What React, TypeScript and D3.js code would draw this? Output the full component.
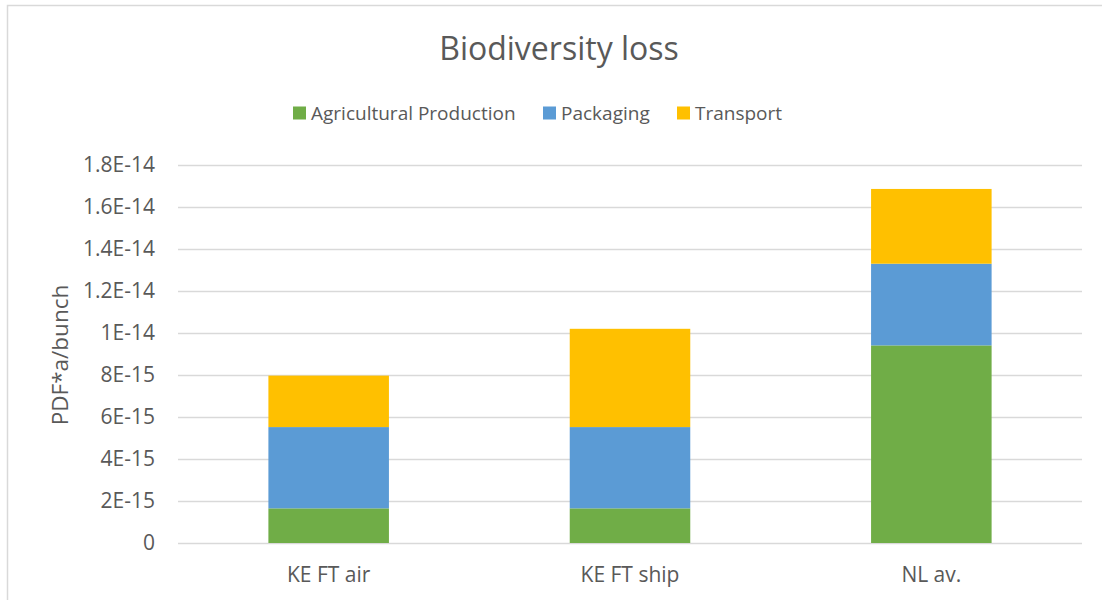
import React, { useEffect, useRef } from 'react';
import * as d3 from 'd3';

// chart data
const categories = ['KE FT air', 'KE FT ship', 'NL av.'];
const seriesNames = ['Agricultural Production', 'Packaging', 'Transport'];
const agricultural = [1.65e-15, 1.65e-15, 9.41e-15];
const packaging = [3.87e-15, 3.87e-15, 3.89e-15];
const transport = [2.45e-15, 4.68e-15, 3.56e-15];
const yTicks = [0, 2e-15, 4e-15, 6e-15, 8e-15, 1e-14, 1.2e-14, 1.4e-14, 1.6e-14, 1.8e-14];
const yTickLabels = ['0', '2E-15', '4E-15', '6E-15', '8E-15', '1E-14', '1.2E-14', '1.4E-14', '1.6E-14', '1.8E-14'];

const colors = ['#70AD47', '#5B9BD5', '#FFC000'];
const W = 1102;
const H = 600;
const FONT = '"Open Sans", sans-serif';
const TEXT = '#595959';

const App = () => {
  const svgRef = useRef<SVGSVGElement>(null);

  useEffect(() => {
    const svg = d3.select(svgRef.current);
    svg.selectAll('*').remove();

    const margin = { left: 178, right: 20, top: 165, bottom: 57 };

    svg
      .append('rect')
      .attr('x', 7.5)
      .attr('y', 5.5)
      .attr('width', 1200)
      .attr('height', 700)
      .attr('fill', '#fff')
      .attr('stroke', '#d9d9d9')
      .attr('stroke-width', 1.5);

    const x = d3
      .scaleBand()
      .domain(categories)
      .range([margin.left, W - margin.right])
      .paddingInner(0.6)
      .paddingOuter(0.3);

    const y = d3
      .scaleLinear()
      .domain([0, 1.8e-14])
      .range([H - margin.bottom, margin.top]);

    // gridlines
    svg
      .append('g')
      .selectAll('line')
      .data(yTicks)
      .enter()
      .append('line')
      .attr('x1', margin.left)
      .attr('x2', W - margin.right)
      .attr('y1', (d) => Math.round(y(d)) + 0.5)
      .attr('y2', (d) => Math.round(y(d)) + 0.5)
      .attr('stroke', '#d9d9d9')
      .attr('stroke-width', 1.5);

    // tick labels
    svg
      .append('g')
      .selectAll('text')
      .data(yTicks)
      .enter()
      .append('text')
      .attr('x', 155)
      .attr('y', (d) => y(d))
      .attr('dy', '0.35em')
      .attr('text-anchor', 'end')
      .attr('font-family', FONT)
      .attr('font-size', 21)
      .attr('fill', TEXT)
      .text((d, i) => yTickLabels[i]);

    // stacked bars
    const table = categories.map((c, i) => ({
      category: c,
      [seriesNames[0]]: agricultural[i],
      [seriesNames[1]]: packaging[i],
      [seriesNames[2]]: transport[i],
    }));
    const stack = d3.stack<any>().keys(seriesNames)(table);

    svg
      .append('g')
      .selectAll('g')
      .data(stack)
      .enter()
      .append('g')
      .attr('fill', (d, i) => colors[i])
      .selectAll('rect')
      .data((d) => d)
      .enter()
      .append('rect')
      .attr('x', (d) => x(d.data.category)!)
      .attr('width', x.bandwidth())
      .attr('y', (d) => y(d[1]))
      .attr('height', (d) => y(d[0]) - y(d[1]));

    // x labels
    svg
      .append('g')
      .selectAll('text')
      .data(categories)
      .enter()
      .append('text')
      .attr('x', (d) => x(d)! + x.bandwidth() / 2)
      .attr('y', 582)
      .attr('text-anchor', 'middle')
      .attr('font-family', FONT)
      .attr('font-size', 21)
      .attr('fill', TEXT)
      .text((d) => d);

    // y axis title
    svg
      .append('text')
      .attr('transform', `translate(68,355) rotate(-90)`)
      .attr('text-anchor', 'middle')
      .attr('font-family', FONT)
      .attr('font-size', 22.5)
      .attr('fill', TEXT)
      .text('PDF*a/bunch');

    // title
    svg
      .append('text')
      .attr('x', 559)
      .attr('y', 60)
      .attr('text-anchor', 'middle')
      .attr('font-family', FONT)
      .attr('font-size', 32)
      .attr('fill', TEXT)
      .text('Biodiversity loss');

    // legend
    const legendX = [293, 543, 677];
    const legend = svg
      .append('g')
      .selectAll('g')
      .data(seriesNames)
      .enter()
      .append('g')
      .attr('transform', (d, i) => `translate(${legendX[i]},113)`);
    legend
      .append('rect')
      .attr('x', 0)
      .attr('y', -6.5)
      .attr('width', 13)
      .attr('height', 13)
      .attr('fill', (d, i) => colors[i]);
    legend
      .append('text')
      .attr('x', 18)
      .attr('dy', '0.35em')
      .attr('font-family', FONT)
      .attr('font-size', 19)
      .attr('fill', TEXT)
      .text((d) => d);
  }, []);

  return (
    <svg
      ref={svgRef}
      width={W}
      height={H}
      style={{ position: 'absolute', left: 0, top: 0, display: 'block' }}
    ></svg>
  );
};

export default App;
